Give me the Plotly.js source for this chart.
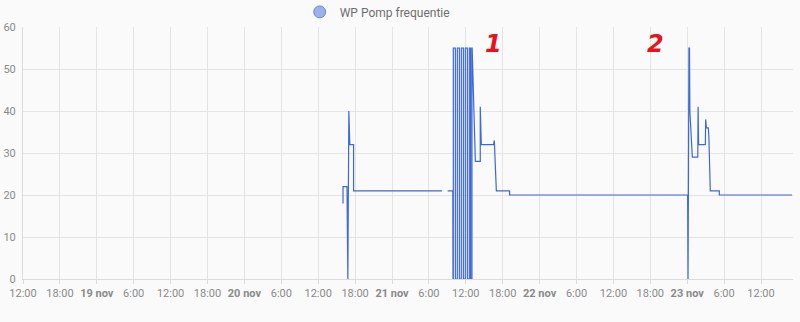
<!DOCTYPE html>
<html>
<head>
<meta charset="utf-8">
<script src="https://cdn.plot.ly/plotly-3.0.1.min.js"></script>
<style>
html,body{margin:0;padding:0;background:#fafafa;}
#chart{width:800px;height:322px;}
</style>
</head>
<body>
<div id="chart"></div>
<script>
// ---- data ----
const seriesName = "WP Pomp frequentie";
const times = [
  "2023-11-20 16:02","2023-11-20 16:02","2023-11-20 16:41","2023-11-20 16:49","2023-11-20 16:59",
  "2023-11-20 17:08","2023-11-20 17:45","2023-11-20 17:45","2023-11-21 08:08","2023-11-21 08:30",
  "2023-11-21 09:02","2023-11-21 09:53","2023-11-21 09:55","2023-11-21 09:58","2023-11-21 09:58",
  "2023-11-21 10:18","2023-11-21 10:18","2023-11-21 10:37","2023-11-21 10:37","2023-11-21 10:57",
  "2023-11-21 10:57","2023-11-21 11:16","2023-11-21 11:16","2023-11-21 11:36","2023-11-21 11:36",
  "2023-11-21 11:55","2023-11-21 11:55","2023-11-21 12:15","2023-11-21 12:15","2023-11-21 12:34",
  "2023-11-21 12:34","2023-11-21 12:47","2023-11-21 12:47","2023-11-21 13:00","2023-11-21 13:00",
  "2023-11-21 13:02","2023-11-21 13:33","2023-11-21 14:21","2023-11-21 14:21","2023-11-21 14:31",
  "2023-11-21 16:31","2023-11-21 16:38","2023-11-21 16:58","2023-11-21 19:07","2023-11-21 19:07",
  "2023-11-23 00:04","2023-11-23 00:08","2023-11-23 00:11","2023-11-23 00:14","2023-11-23 00:17",
  "2023-11-23 00:22","2023-11-23 00:26","2023-11-23 00:50",
  "2023-11-23 01:43","2023-11-23 01:46","2023-11-23 01:51","2023-11-23 02:57","2023-11-23 03:00",
  "2023-11-23 03:07","2023-11-23 03:26","2023-11-23 03:31","2023-11-23 03:45","2023-11-23 05:13",
  "2023-11-23 05:13","2023-11-23 17:02"
];
const values = [
  18,22,22,0,40,
  32,32,21,21,null,
  21,21,0,0,55,
  55,0,0,55,55,
  0,0,55,55,0,
  0,55,55,0,0,
  55,55,0,0,55,
  55,28,28,41,32,
  32,33,21,21,20,
  20,0,55,0,55,
  55,40,29,
  29,41,32,32,38,
  36,36,34,21,21,
  20,20
];
const tickTimes = [
  "2023-11-18 12:00","2023-11-18 18:00","2023-11-19 00:00","2023-11-19 06:00","2023-11-19 12:00",
  "2023-11-19 18:00","2023-11-20 00:00","2023-11-20 06:00","2023-11-20 12:00","2023-11-20 18:00",
  "2023-11-21 00:00","2023-11-21 06:00","2023-11-21 12:00","2023-11-21 18:00","2023-11-22 00:00",
  "2023-11-22 06:00","2023-11-22 12:00","2023-11-22 18:00","2023-11-23 00:00","2023-11-23 06:00",
  "2023-11-23 12:00"
];
const tickLabels = [
  "12:00","18:00","<b>19 nov</b>","6:00","12:00",
  "18:00","<b>20 nov</b>","6:00","12:00","18:00",
  "<b>21 nov</b>","6:00","12:00","18:00","<b>22 nov</b>",
  "6:00","12:00","18:00","<b>23 nov</b>","6:00",
  "12:00"
];
const xRange = ["2023-11-18 12:00","2023-11-23 17:12"];
const markNotes = [
  {x:"2023-11-21 16:28", y:55, text:"1"},
  {x:"2023-11-22 18:50", y:55, text:"2"}
];

// ---- chart ----
const lineColor = "#3d68d6";
const traces = [
  {x: times, y: values, type: "scatter", mode: "lines", name: seriesName,
   line: {color: lineColor, width: 1.2}, connectgaps: false, showlegend: false,
   hoverinfo: "x+y"},
  {x: [null], y: [null], type: "scatter", mode: "markers", name: seriesName,
   marker: {size: 12, color: "rgba(61,104,214,0.5)", line: {color: "rgba(61,104,214,0.7)", width: 1}},
   showlegend: true}
];
const layout = {
  width: 800, height: 322,
  margin: {l: 23, r: 7, t: 27, b: 43, autoexpand: false},
  paper_bgcolor: "#fafafa", plot_bgcolor: "#fafafa",
  font: {family: "Roboto, sans-serif", size: 11, color: "#8a8a8a"},
  showlegend: true,
  legend: {orientation: "h", x: 0.46, xanchor: "center", y: 1.06, yanchor: "middle",
           font: {size: 12, color: "#6e6e6e"}, bgcolor: "rgba(0,0,0,0)"},
  xaxis: {type: "date", range: xRange, tickmode: "array", tickvals: tickTimes, ticktext: tickLabels,
          showgrid: true, gridcolor: "#e4e4e4", gridwidth: 1,
          showline: true, linecolor: "#dcdcdc", linewidth: 1,
          ticks: "outside", ticklen: 4, tickcolor: "#dcdcdc",
          tickfont: {size: 11, color: "#8a8a8a"}, zeroline: false, fixedrange: true, automargin: false},
  yaxis: {range: [0, 60], tickvals: [0,10,20,30,40,50,60], showgrid: true, gridcolor: "#e4e4e4",
          showline: true, linecolor: "#dcdcdc", zeroline: false, ticks: "",
          ticklabelstandoff: 4, automargin: false,
          tickfont: {size: 11, color: "#8a8a8a"}, fixedrange: true},
  annotations: markNotes.map(m => ({x: m.x, y: m.y, xref: "x", yref: "y", text: "<b><i>" + m.text + "</i></b>",
    showarrow: false, font: {family: "DejaVu Sans", size: 24, color: "#e5131b"}, yshift: 4}))
};
Plotly.newPlot("chart", traces, layout, {displayModeBar: false, staticPlot: true});
</script>
</body>
</html>
